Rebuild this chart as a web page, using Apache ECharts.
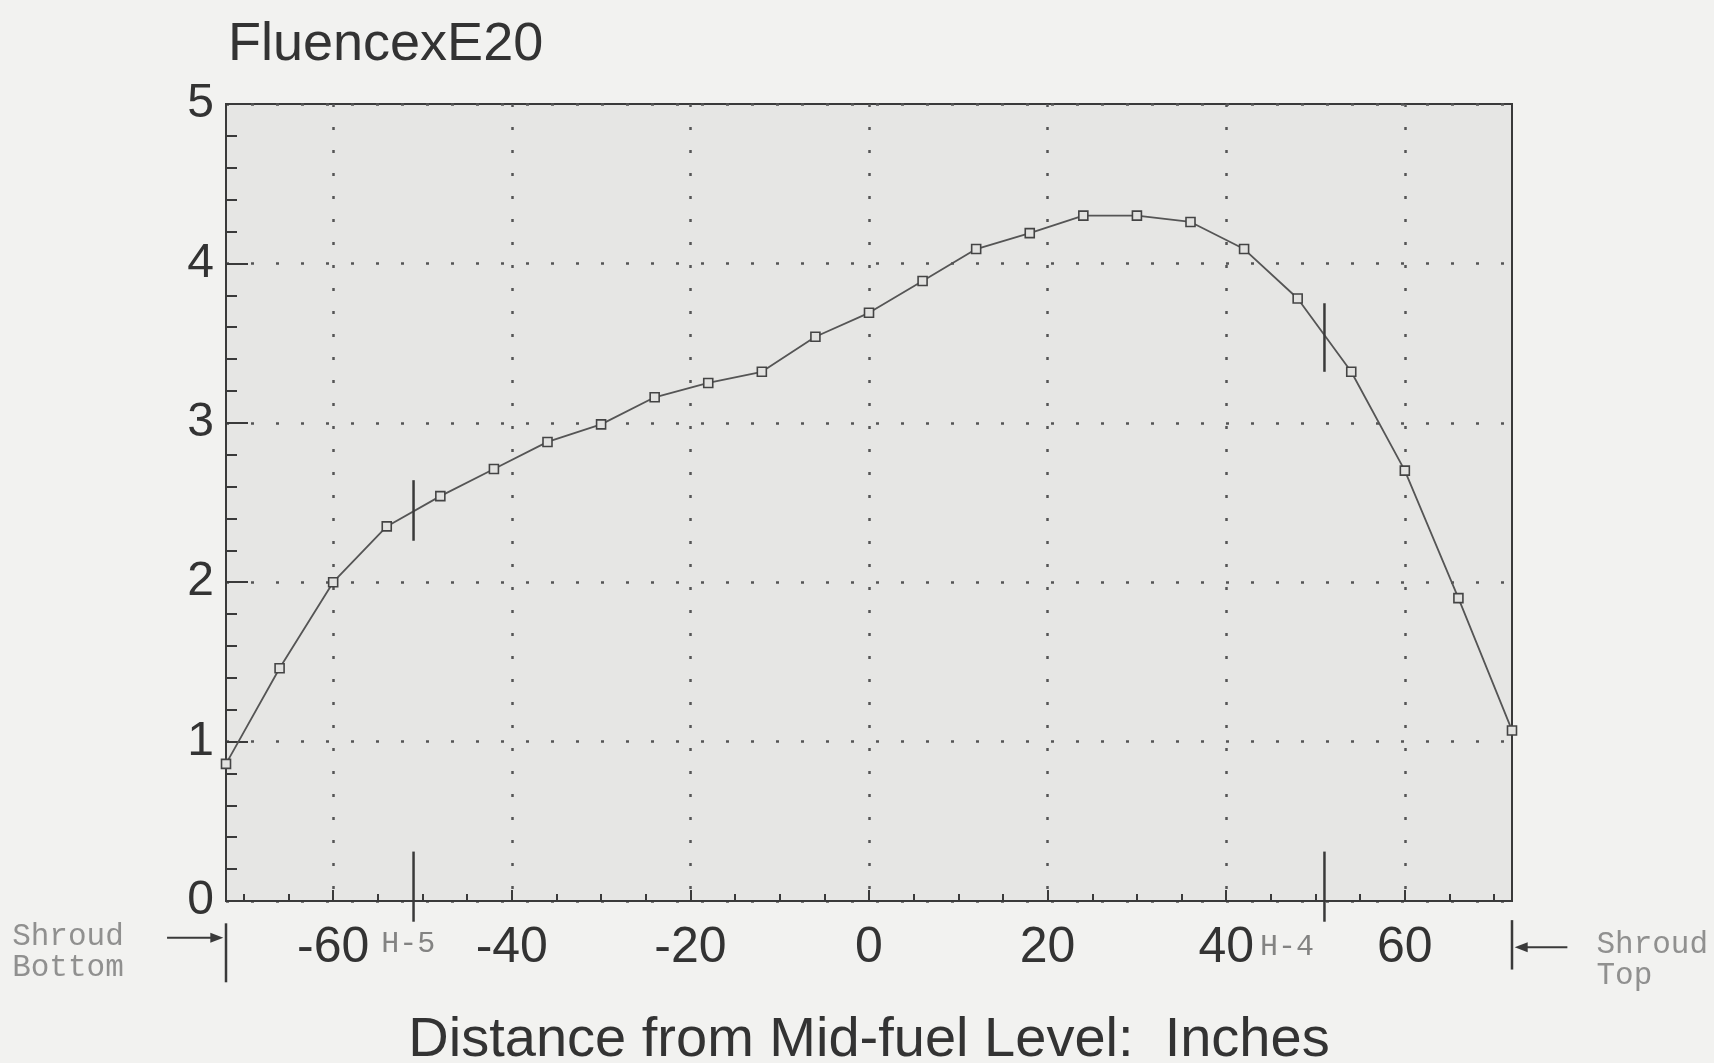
<!DOCTYPE html>
<html>
<head>
<meta charset="utf-8">
<title>FluencexE20</title>
<script src="https://cdn.jsdelivr.net/npm/echarts@6/dist/echarts.min.js"></script>
<style>
  html, body { margin: 0; padding: 0; background: #f2f2f0; }
  #chart { width: 1714px; height: 1063px; }
</style>
</head>
<body>
<div id="chart"></div>
<script>
// distance from mid-fuel level (inches) vs fluence (x E20)
const distance = [-72, -66, -60, -54, -48, -42, -36, -30, -24, -18, -12, -6, 0,
  6, 12, 18, 24, 30, 36, 42, 48, 54, 60, 66, 72];
const fluence = [0.86, 1.46, 2.00, 2.35, 2.54, 2.71, 2.88, 2.99, 3.16, 3.25, 3.32, 3.54, 3.69,
  3.89, 4.09, 4.19, 4.30, 4.30, 4.26, 4.09, 3.78, 3.32, 2.70, 1.90, 1.07];

const xTicks = [-60, -40, -20, 0, 20, 40, 60];
const xMinorTicks = [-70, -65, -60, -55, -50, -45, -40, -35, -30, -25, -20, -15, -10, -5, 0,
  5, 10, 15, 20, 25, 30, 35, 40, 45, 50, 55, 60, 65, 70];

// detector positions (H-5, H-4)
const detectorNames = ['H-5', 'H-4'];
const detectorX = [-51, 51];
const detectorCurveSpan = [[2.26, 2.64], [3.32, 3.75]];
const detectorAxisSpan = [-0.13, 0.31];
const detectorLabelX = [-51.6, 46.8];
const detectorLabelY = [-0.27, -0.29];

// shroud ends
const shroudNames = ['Shroud\nBottom', 'Shroud\nTop'];
const shroudX = [-72, 72];
const shroudBarSpan = [[-0.14, -0.51], [-0.12, -0.43]];
const shroudArrowFrom = [-78.6, 78.2];
const shroudArrowTo = [-72.3, 72.3];
const shroudArrowY = [-0.23, -0.29];
const shroudLabelX = [-96, 81.4];
const shroudLabelY = [-0.32, -0.37];

const ink = '#3a3a3a';
const chart = echarts.init(document.getElementById('chart'));

function segment(points, width) {
  return {
    type: 'line',
    data: points,
    symbol: 'none',
    clip: false,
    silent: true,
    z: 5,
    lineStyle: { color: ink, width: width || 2.5 }
  };
}

const extra = [];
detectorX.forEach((x, i) => {
  extra.push(segment([[x, detectorCurveSpan[i][0]], [x, detectorCurveSpan[i][1]]]));
  extra.push(segment([[x, detectorAxisSpan[0]], [x, detectorAxisSpan[1]]]));
});
shroudX.forEach((x, i) => {
  extra.push(segment([[x, shroudBarSpan[i][0]], [x, shroudBarSpan[i][1]]]));
});

function textSeries(names, xs, ys, label) {
  return {
    type: 'scatter',
    clip: false,
    silent: true,
    symbolSize: 1,
    itemStyle: { color: 'rgba(0,0,0,0)' },
    label: Object.assign({ show: true, formatter: p => p.name, fontFamily: 'Liberation Mono' }, label),
    data: names.map((n, i) => ({ name: n, value: [xs[i], ys[i]] }))
  };
}
extra.push(textSeries(detectorNames, detectorLabelX, detectorLabelY,
  { position: 'inside', fontSize: 30, color: '#666' }));
extra.push(textSeries(shroudNames, shroudLabelX, shroudLabelY,
  { position: 'right', distance: 0, align: 'left', fontSize: 31, lineHeight: 31, color: '#777' }));

chart.setOption({
  backgroundColor: '#f2f2f0',
  animation: false,
  title: {
    text: 'FluencexE20',
    left: 228,
    top: 18,
    padding: 0,
    textStyle: {
      fontFamily: 'Liberation Sans',
      fontSize: 54,
      fontWeight: 'normal',
      color: '#333'
    }
  },
  grid: {
    left: 226,
    right: 202,
    top: 104,
    bottom: 162,
    outerBoundsMode: 'none',
    show: true,
    backgroundColor: '#e6e6e4',
    borderColor: ink,
    borderWidth: 2
  },
  xAxis: [
    {
      type: 'value',
      min: -72,
      max: 72,
      name: 'Distance from Mid-fuel Level:  Inches',
      nameLocation: 'middle',
      nameGap: 112,
      nameTextStyle: { fontFamily: 'Liberation Sans', fontSize: 56, color: '#333' },
      axisLine: { show: true, onZero: false, lineStyle: { color: ink, width: 2 } },
      axisTick: { show: true, inside: true, length: 11, customValues: xTicks, lineStyle: { color: ink, width: 2 } },
      axisLabel: {
        customValues: xTicks,
        margin: 22,
        fontFamily: 'Liberation Sans',
        fontSize: 50,
        color: '#333'
      },
      splitLine: { show: true, lineStyle: { color: '#555', width: 2.5, type: [3, 20] } }
    },
    {
      type: 'value',
      min: -72,
      max: 72,
      position: 'bottom',
      axisLine: { show: false, onZero: false },
      axisTick: { show: true, inside: true, length: 7, customValues: xMinorTicks, lineStyle: { color: ink, width: 2 } },
      axisLabel: { show: false },
      splitLine: { show: false }
    }
  ],
  yAxis: {
    type: 'value',
    min: 0,
    max: 5,
    interval: 1,
    axisLine: { show: true, onZero: false, lineStyle: { color: ink, width: 2 } },
    axisTick: { show: true, inside: true, length: 22, lineStyle: { color: ink, width: 2 } },
    minorTick: { show: true, splitNumber: 5, length: 11, lineStyle: { color: ink, width: 2 } },
    axisLabel: {
      margin: 12,
      fontFamily: 'Liberation Sans',
      fontSize: 48,
      color: '#333'
    },
    splitLine: { show: true, lineStyle: { color: '#555', width: 2.5, type: [3, 22] } }
  },
  series: [
    {
      type: 'line',
      data: distance.map((d, i) => [d, fluence[i]]),
      symbol: 'rect',
      symbolSize: 9,
      clip: false,
      z: 4,
      lineStyle: { color: '#555', width: 1.8 },
      itemStyle: { color: '#e2e2e0', borderColor: '#444', borderWidth: 1.6 }
    }
  ].concat(extra)
});

// shroud arrows, placed through the axis scales
const arrows = [];
shroudX.forEach((x, i) => {
  const p0 = chart.convertToPixel({ gridIndex: 0 }, [shroudArrowFrom[i], shroudArrowY[i]]);
  const p1 = chart.convertToPixel({ gridIndex: 0 }, [shroudArrowTo[i], shroudArrowY[i]]);
  const dir = p1[0] > p0[0] ? 1 : -1;
  arrows.push({
    type: 'line',
    silent: true,
    z: 10,
    shape: { x1: p0[0], y1: p0[1], x2: p1[0] - dir * 6, y2: p1[1] },
    style: { stroke: ink, lineWidth: 2 }
  });
  arrows.push({
    type: 'polygon',
    silent: true,
    z: 10,
    shape: { points: [[p1[0], p1[1]], [p1[0] - dir * 13, p1[1] - 5], [p1[0] - dir * 13, p1[1] + 5]] },
    style: { fill: ink }
  });
});
chart.setOption({ graphic: arrows });
</script>
</body>
</html>
